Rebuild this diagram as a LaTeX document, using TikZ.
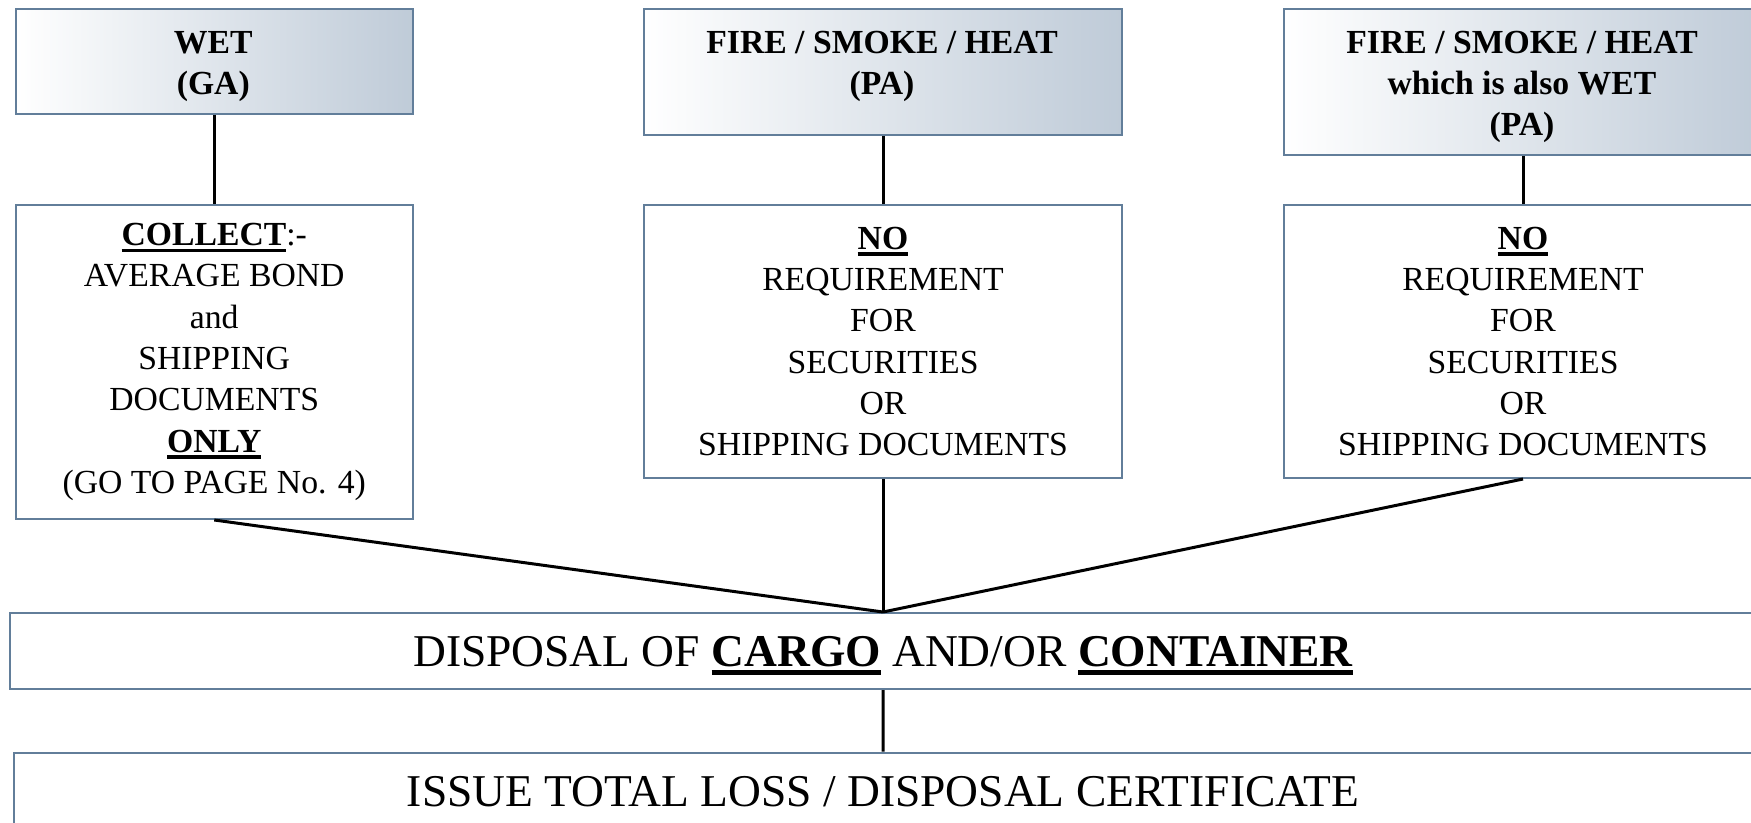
\documentclass[tikz,border=0pt]{standalone}
\usepackage{fontspec}
\setmainfont{Liberation Serif}
\definecolor{edgecol}{HTML}{627E9A}
\definecolor{shadecol}{HTML}{BFCBD8}
\newcommand{\ulbf}[1]{\leavevmode\vtop{\hbox{\bfseries #1}\kern0.08em\hrule height 0.1em}}
\newcommand{\fsmain}{\fontsize{33.7}{41.3}\selectfont}
\newcommand{\fsbig}{\fontsize{45.5}{54}\selectfont}
\begin{document}
\begin{tikzpicture}[x=1pt,y=-1pt,
  box/.style={draw=edgecol, line width=2pt, anchor=north west, inner sep=0pt, align=center, font=\fsmain},
  headbox/.style={box, left color=white, right color=shadecol},
  headtext/.style={anchor=north, inner sep=0pt, align=center, font=\fsmain\bfseries},
  bigbox/.style={box, font=\fsbig, text height=30pt, text depth=0pt},
  conn/.style={draw=black, line width=3pt}]
\clip (0,0) rectangle (1751,822);
% heading boxes
\node[headbox, minimum width=397.5pt, minimum height=105pt] (h1) at (14.5,7.8) {};
\node[headtext] (h1t) at (213.3,24) {\strut WET\\(GA)};
\node[headbox, minimum width=478pt, minimum height=126pt] (h2) at (643,7.8) {};
\node[headtext] (h2t) at (882,24) {\strut FIRE / SMOKE / HEAT\\(PA)};
\node[headbox, minimum width=478pt, minimum height=146pt] (h3) at (1283,7.8) {};
\node[headtext] (h3t) at (1522,24) {\strut FIRE / SMOKE / HEAT\\which is also WET\\(PA)};
% detail boxes
\node[box, minimum width=397.5pt, minimum height=314pt] (b1) at (14.5,204)
  {\ulbf{COLLECT}:-\\AVERAGE BOND\\and\\SHIPPING\\DOCUMENTS\\\ulbf{ONLY}\\(GO TO PAGE No. 4)};
\node[box, minimum width=478pt, minimum height=273pt] (b2) at (643,204)
  {\ulbf{NO}\\REQUIREMENT\\FOR\\SECURITIES\\OR\\SHIPPING DOCUMENTS};
\node[box, minimum width=478pt, minimum height=273pt] (b3) at (1283,204)
  {\ulbf{NO}\\REQUIREMENT\\FOR\\SECURITIES\\OR\\SHIPPING DOCUMENTS};
% bottom boxes
\node[bigbox, minimum width=1746pt, minimum height=76pt] (disp) at (9,612)
  {DISPOSAL OF \ulbf{CARGO} AND/OR \ulbf{CONTAINER}};
\node[bigbox, minimum width=1737.2pt, minimum height=77pt] (iss) at (13.4,751.5)
  {ISSUE TOTAL LOSS / DISPOSAL CERTIFICATE};
% connectors
\draw[conn] (h1.south) -- (b1.north);
\draw[conn] (h2.south) -- (b2.north);
\draw[conn] (h3.south) -- (b3.north);
\draw[conn] (b1.south) -- (disp.north);
\draw[conn] (b2.south) -- (disp.north);
\draw[conn] (b3.south) -- (disp.north);
\draw[conn] (disp.south) -- (iss.north);
\end{tikzpicture}
\end{document}
